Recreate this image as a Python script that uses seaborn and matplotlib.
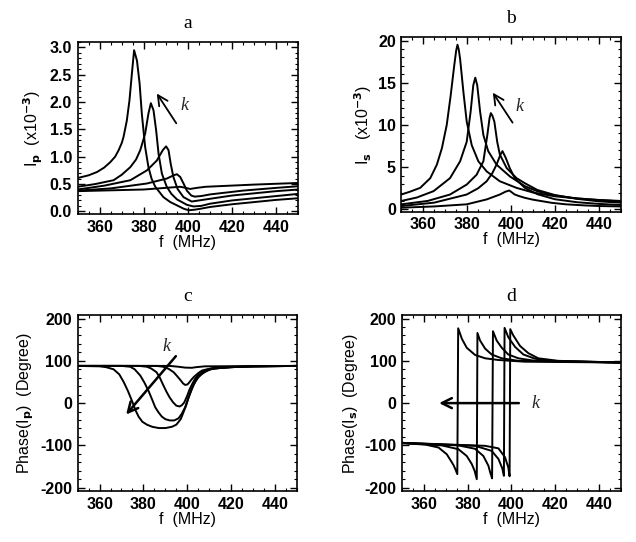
import matplotlib
matplotlib.use("Agg")
import matplotlib.pyplot as plt
from matplotlib.ticker import MultipleLocator, AutoMinorLocator, FormatStrFormatter
import pandas as pd
import seaborn as sns

# ---- data (f in MHz) ----
# panel a: |Ip| (x1e-3), five k values
ip_freq = [
    [350, 355, 358.8, 362, 364.8, 367, 368.6, 370, 370.8, 372.3, 373.5, 374.6, 375.6, 376.9, 378.1, 379.1, 380.6, 382.1, 383.5, 385.2, 388.9, 392, 395, 398, 400.3, 403, 406, 410, 420, 430, 440, 450],
    [350, 358, 366.3, 370, 373.9, 376.5, 378.4, 380.6, 382.1, 383.2, 384.4, 385.6, 386.7, 388.2, 390.4, 392.5, 395, 399.5, 402.5, 406, 410, 420, 430, 440, 450],
    [350, 362, 373.9, 381.4, 385.9, 388.6, 390.1, 391.2, 392.2, 393.4, 395.3, 398, 401.7, 405, 410, 420, 430, 440, 450],
    [350, 365, 381.4, 390.4, 393.5, 395, 396.5, 398, 399.5, 401.5, 403, 406, 410, 425, 440, 450],
    [350, 380, 396.5, 399, 401, 404, 408, 430, 450],
]
ip_amp = [
    [0.61, 0.66, 0.72, 0.8, 0.9, 1.0, 1.12, 1.25, 1.36, 1.66, 2.03, 2.52, 2.95, 2.76, 2.34, 1.79, 1.18, 0.81, 0.6, 0.45, 0.26, 0.17, 0.11, 0.05, 0.02, 0.03, 0.05, 0.08, 0.13, 0.17, 0.21, 0.24],
    [0.45, 0.5, 0.57, 0.67, 0.81, 0.95, 1.12, 1.42, 1.79, 1.98, 1.85, 1.48, 1.05, 0.69, 0.45, 0.32, 0.22, 0.12, 0.09, 0.1, 0.14, 0.2, 0.24, 0.28, 0.32],
    [0.40, 0.47, 0.57, 0.75, 0.93, 1.12, 1.19, 1.12, 0.87, 0.63, 0.41, 0.26, 0.18, 0.2, 0.23, 0.29, 0.33, 0.37, 0.40],
    [0.38, 0.42, 0.51, 0.60, 0.66, 0.68, 0.63, 0.51, 0.38, 0.29, 0.27, 0.28, 0.31, 0.38, 0.43, 0.46],
    [0.37, 0.40, 0.45, 0.43, 0.41, 0.43, 0.45, 0.49, 0.52],
]

# panel b: |Is| (x1e-3)
is_freq = [
    [350, 354, 358.6, 363.2, 366.2, 368.5, 370.7, 372.5, 374.1, 375.0, 375.6, 376.2, 376.8, 378.3, 379.8, 382.1, 385.1, 388.9, 394.9, 402.5, 410, 420, 430, 440, 450],
    [350, 357, 364.7, 372.2, 376.8, 379.8, 381.6, 382.8, 383.7, 384.6, 385.9, 387.4, 389.6, 393.4, 399.5, 406.3, 412, 420, 430, 440, 450],
    [350, 362, 372.2, 379.8, 384.3, 387.4, 389.2, 390.2, 390.8, 391.5, 392.4, 393.7, 394.9, 398, 402.5, 406.3, 412, 420, 430, 440, 450],
    [350, 365, 379.8, 385, 388.9, 391.5, 393.4, 395.2, 396.1, 397.6, 399.4, 401.7, 406.3, 412, 420, 430, 440, 450],
    [350, 365, 379.8, 388.9, 394.9, 397.5, 399.2, 401.7, 404, 406.3, 410, 418.5, 425, 433.6, 440, 450],
]
is_amp = [
    [1.76, 2.1, 2.55, 3.7, 5.3, 7.25, 10.0, 13.5, 17.0, 18.8, 19.5, 18.9, 17.8, 13.9, 10.4, 7.6, 5.7, 4.5, 3.33, 2.55, 2.0, 1.55, 1.3, 1.12, 1.0],
    [1.0, 1.4, 2.16, 3.7, 5.7, 8.0, 11.6, 14.7, 15.6, 14.7, 11.6, 8.8, 6.9, 5.3, 3.9, 2.75, 2.15, 1.65, 1.3, 1.1, 0.95],
    [0.6, 1.0, 1.76, 2.94, 4.1, 5.7, 8.8, 10.8, 11.4, 11.1, 10.4, 8.0, 6.5, 4.9, 3.7, 3.1, 2.3, 1.7, 1.25, 0.95, 0.8],
    [0.4, 0.8, 1.76, 2.5, 3.33, 4.3, 5.3, 6.5, 6.9, 6.1, 4.9, 3.7, 2.55, 1.8, 1.2, 0.85, 0.65, 0.52],
    [0.2, 0.35, 0.6, 1.18, 1.76, 2.1, 2.24, 1.76, 1.55, 1.37, 1.15, 0.78, 0.6, 0.47, 0.4, 0.35],
]

# panel c: phase(Ip) in degrees
pp_freq = [
    [350, 360, 363, 366.4, 369, 371, 373, 374.8, 376.5, 377.8, 379.5, 381.6, 384, 387, 390, 393, 395, 397, 398, 399.5, 400.6, 402, 403.6, 405, 406.7, 408.5, 410.5, 415, 420, 430, 450],
    [350, 370, 374, 376, 378.6, 380.5, 382.4, 384, 385.4, 386.9, 388.4, 390, 392, 394, 396, 397.5, 399, 400.3, 401.7, 403, 404.4, 405.8, 407.4, 409.5, 412, 420, 430, 450],
    [350, 378, 381.6, 383.5, 386, 387.5, 389, 390.5, 392, 393.5, 395, 396.5, 397.5, 398.6, 400, 401, 402.3, 403.6, 405, 406.7, 408.5, 411, 420, 430, 450],
    [350, 386, 389, 391.5, 393.8, 395.5, 396.8, 398, 399, 400, 400.6, 401.8, 403, 405, 406.7, 409, 412, 420, 450],
    [350, 392, 396, 399, 402, 404, 408, 450],
]
pp_deg = [
    [88, 87, 85, 80, 68, 50, 28, 5, -18, -32, -44, -51, -56, -59, -59, -56, -51, -38, -25, -5, 13, 34, 50, 61, 69, 75, 80, 83, 85, 87, 88],
    [88, 88, 86, 80, 65, 48, 28, 8, -10, -22, -32, -38, -41, -41, -36, -25, -10, 10, 28, 45, 58, 66, 73, 78, 82, 85, 87, 88],
    [88, 88, 86, 82, 73, 60, 43, 27, 13, 2, -6, -8, -5, 1.5, 18, 32, 46, 58, 66, 73, 78, 82, 85, 87, 88],
    [88, 88, 86, 81, 73, 63, 55, 47, 43, 44, 47, 55, 62, 71, 77, 80, 83, 86, 88],
    [88, 88, 86, 84, 83.5, 85, 87, 88],
]

# panel d: phase(Is) in degrees (jump from about -170 to about +175)
ps_freq = [
    [350, 360.6, 366.7, 370.5, 372.8, 373.6, 374.3, 375.3, 375.7, 377.4, 379.6, 383.4, 388, 394, 406, 450],
    [350, 368.2, 375.8, 379.6, 381.9, 383.2, 384.2, 384.5, 385.7, 388, 391, 395.6, 403.2, 450],
    [350, 375.8, 383.4, 387.2, 389.5, 390.4, 391.2, 391.6, 393.3, 395.6, 398.6, 403.2, 410.8, 450],
    [350, 383.4, 391, 394.1, 395.9, 396.6, 396.9, 398.6, 401.7, 405.5, 410.8, 418.4, 450],
    [350, 388, 394.1, 397.1, 398.6, 399.2, 399.5, 400.9, 404, 407.8, 412.3, 421.4, 450],
]
ps_deg = [
    [-95, -98, -105, -121, -140, -147, -155, -168, 177, 152, 131, 114, 106, 102, 98, 96],
    [-94, -100, -109, -125, -144, -160, -180, 166, 148, 129, 115, 106, 100, 96],
    [-94, -100, -108, -125, -148, -165, -178, 170, 148, 131, 115, 106, 100, 96],
    [-94, -101, -113, -132, -155, -172, 178, 156, 133, 115, 105, 100, 96],
    [-94, -101, -107, -128, -152, -173, 175, 160, 135, 118, 106, 100, 96],
]

sns.set_theme(style="ticks")
sans = ['Liberation Sans Narrow', 'Liberation Sans', 'DejaVu Sans']
plt.rcParams['font.family'] = sans
plt.rcParams['font.weight'] = 'bold'
plt.rcParams['mathtext.fontset'] = 'custom'
plt.rcParams['mathtext.rm'] = 'Liberation Sans Narrow:bold'
plt.rcParams['mathtext.it'] = 'Liberation Sans Narrow:bold'

fig = plt.figure(figsize=(6.36, 5.42), dpi=100)
ax_a = fig.add_axes([0.122, 0.605, 0.347, 0.3175])
ax_b = fig.add_axes([0.631, 0.609, 0.345, 0.3225])
ax_c = fig.add_axes([0.122, 0.094, 0.345, 0.3245])
ax_d = fig.add_axes([0.632, 0.094, 0.344, 0.3245])

panels = [
    (ax_a, ip_freq, ip_amp, 'a', r'I$_{\rm p}$  (x10$^{-3}$)', (-0.05, 3.1), 0.5, '%.1f'),
    (ax_b, is_freq, is_amp, 'b', r'I$_{\rm s}$   (x10$^{-3}$)', (-0.3, 20.4), 5, '%d'),
    (ax_c, pp_freq, pp_deg, 'c', r'Phase(I$_{\rm p}$)  (Degree)', (-208, 208), 100, '%d'),
    (ax_d, ps_freq, ps_deg, 'd', r'Phase(I$_{\rm s}$)  (Degree)', (-208, 208), 100, '%d'),
]

for ax, freqs, vals, title, ylabel, ylim, ystep, yfmt in panels:
    for f, v in zip(freqs, vals):
        df = pd.DataFrame({'f': f, 'v': v})
        sns.lineplot(data=df, x='f', y='v', ax=ax, color='black', lw=1.4,
                     sort=False, estimator=None)
    ax.set_xlim(350, 450)
    ax.set_ylim(*ylim)
    ax.xaxis.set_major_locator(MultipleLocator(20))
    ax.xaxis.set_minor_locator(AutoMinorLocator(4))
    ax.yaxis.set_major_locator(MultipleLocator(ystep))
    ax.yaxis.set_minor_locator(AutoMinorLocator(5))
    ax.yaxis.set_major_formatter(FormatStrFormatter(yfmt))
    ax.tick_params(which='both', direction='in', top=True, right=True,
                   color='black', labelsize=11.5, labelcolor='black', pad=4)
    ax.tick_params(which='major', length=5, width=1.0)
    ax.tick_params(which='minor', length=2.5, width=0.8)
    for s in ax.spines.values():
        s.set_linewidth(1.2)
        s.set_color('black')
    ax.set_xlabel('f  (MHz)', fontsize=11.5, labelpad=0, color='black')
    ax.set_ylabel(ylabel, fontsize=11.5, labelpad=3, color='black')
    ax.set_title(title, family='Liberation Serif', fontweight='normal',
                 fontsize=14, pad=10, color='black')

# "k" arrows
arrow_style = dict(arrowstyle='->', color='black', lw=1.3, mutation_scale=18)
ktext = dict(family='Liberation Serif', style='italic', fontweight='normal',
             fontsize=13, va='center')
ax_a.annotate('', xy=(385.2, 2.2), xytext=(395.4, 1.57), arrowprops=arrow_style)
ax_a.text(396.5, 1.94, 'k', **ktext)
ax_b.annotate('', xy=(391, 14.1), xytext=(401.4, 10.0), arrowprops=arrow_style)
ax_b.text(402.2, 12.2, 'k', **ktext)
ax_c.annotate('', xy=(371.3, -32), xytext=(395.6, 116), arrowprops=dict(arrow_style, lw=1.8))
ax_c.text(388.5, 133, 'k', **ktext)
ax_d.annotate('', xy=(365.7, 0), xytext=(404.7, 0), arrowprops=dict(arrow_style, lw=1.8))
ax_d.text(409.3, 0, 'k', **ktext)

fig.savefig('out.png', dpi=100, facecolor='white')
